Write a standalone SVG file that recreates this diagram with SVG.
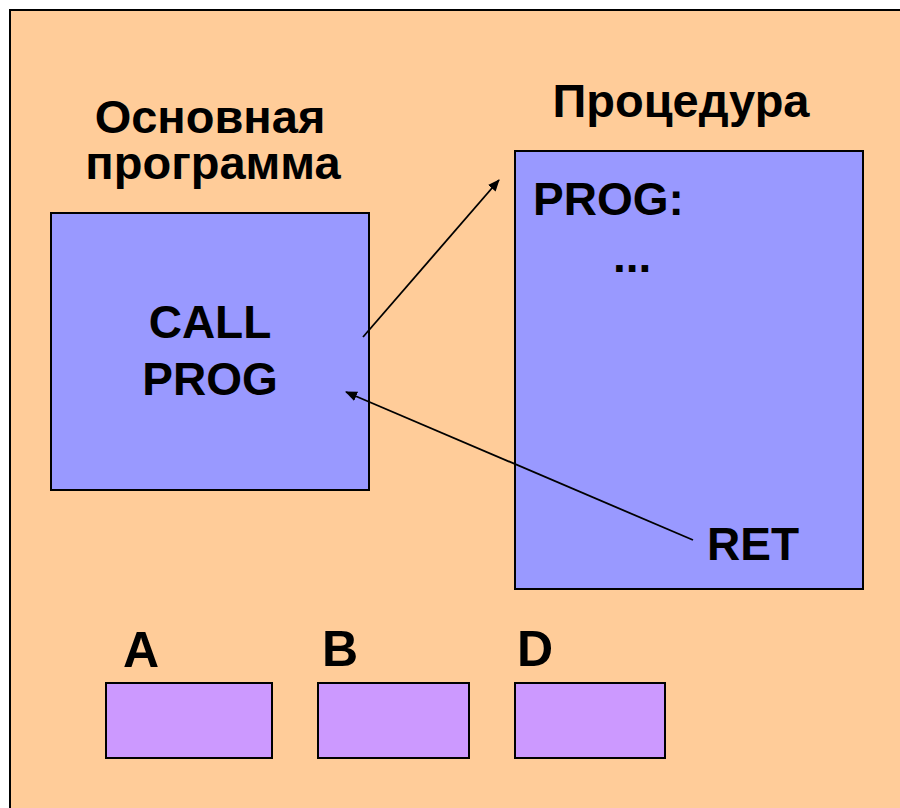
<svg xmlns="http://www.w3.org/2000/svg" width="900" height="808" viewBox="0 0 900 808">
  <style>
    .lbl { font-family: "Liberation Sans", Arial, sans-serif; font-weight: bold; font-size: 46px; fill: #000; }
    .head { font-size: 47px; }
    .reg-name { font-size: 50px; }
    .blk { fill: #9999FF; stroke: #000; stroke-width: 2; }
    .reg { fill: #CC99FF; stroke: #000; stroke-width: 2; }
    .link { fill: none; stroke: #000; stroke-width: 1.8; marker-end: url(#head); }
  </style>
  <defs>
    <marker id="head" viewBox="0 0 12 10" refX="11" refY="5" markerWidth="12" markerHeight="10" markerUnits="userSpaceOnUse" orient="auto">
      <path d="M0,0 L12,5 L0,10 Z" fill="#000"/>
    </marker>
  </defs>

  <!-- page -->
  <rect x="0" y="0" width="900" height="808" fill="#FFFFFF"/>
  <rect x="10" y="10" width="900" height="808" fill="#FFCC99" stroke="#000" stroke-width="2"/>

  <!-- main program -->
  <g id="main">
    <text class="lbl head" x="210" y="133" text-anchor="middle">Основная</text>
    <text class="lbl head" x="213" y="179" text-anchor="middle">программа</text>
    <rect class="blk" x="51" y="213" width="318" height="277"/>
    <text class="lbl" x="210" y="338" text-anchor="middle">CALL</text>
    <text class="lbl" x="210" y="395" text-anchor="middle">PROG</text>
  </g>

  <!-- procedure -->
  <g id="procedure">
    <text class="lbl head" x="681" y="117" text-anchor="middle">Процедура</text>
    <rect class="blk" x="515" y="151" width="348" height="438"/>
    <text class="lbl" x="533" y="215">PROG:</text>
    <text class="lbl" x="613" y="272">...</text>
    <text class="lbl" x="707" y="560">RET</text>
  </g>

  <!-- registers -->
  <g id="reg-a">
    <text class="lbl reg-name" x="123" y="667">A</text>
    <rect class="reg" x="106" y="683" width="166" height="75"/>
  </g>
  <g id="reg-b">
    <text class="lbl reg-name" x="322" y="666">B</text>
    <rect class="reg" x="318" y="683" width="151" height="75"/>
  </g>
  <g id="reg-d">
    <text class="lbl reg-name" x="517" y="666">D</text>
    <rect class="reg" x="515" y="683" width="150" height="75"/>
  </g>

  <!-- call and return -->
  <g id="connectors">
    <line class="link" x1="363" y1="337" x2="499" y2="180"/>
    <line class="link" x1="693" y1="540" x2="346" y2="392"/>
  </g>
</svg>
